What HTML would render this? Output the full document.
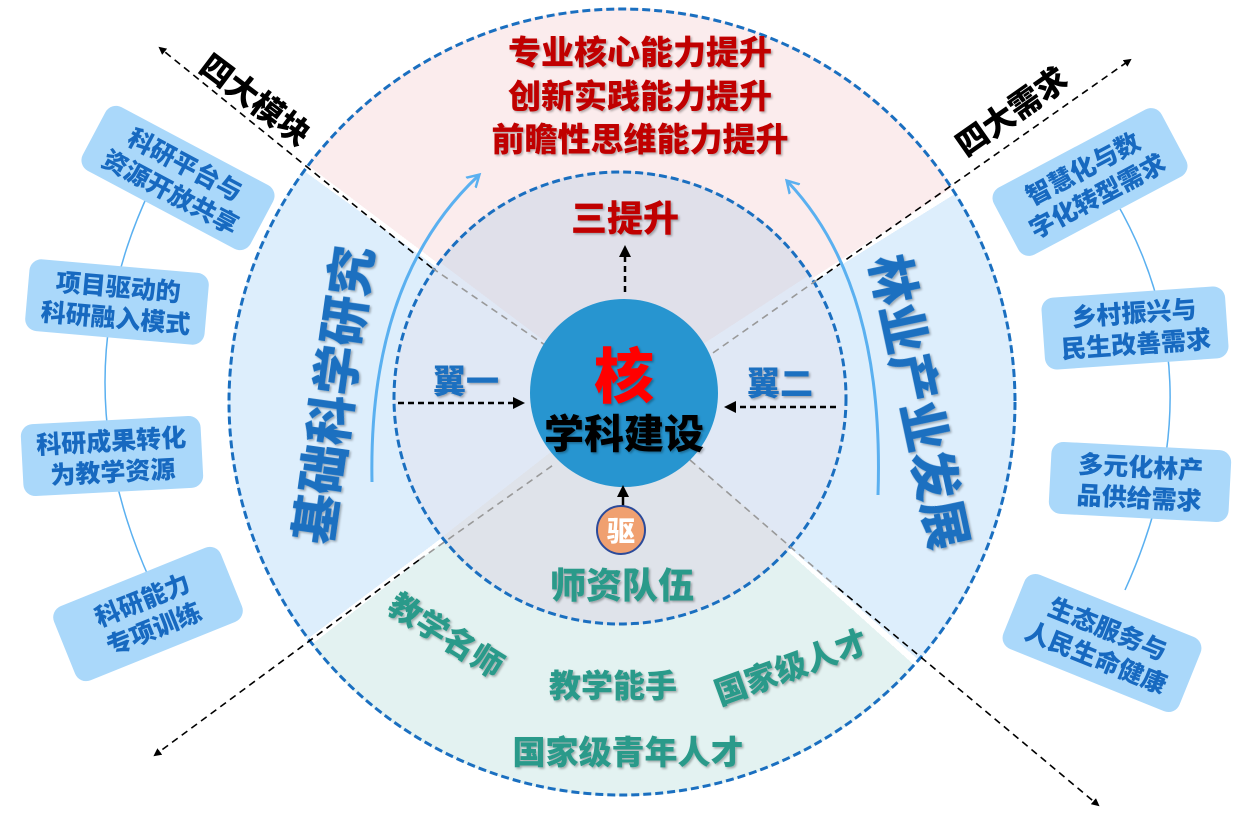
<!DOCTYPE html>
<html><head><meta charset="utf-8"><style>
html,body{margin:0;padding:0;background:#fff;}
#w{position:relative;width:1253px;height:820px;overflow:hidden;font-family:"Liberation Sans","Noto Sans CJK SC",sans-serif;}
.disk{position:absolute;border-radius:50%;}
svg{position:absolute;left:0;top:0;}
text{font-family:"Liberation Sans","Noto Sans CJK SC",sans-serif;font-weight:900;}
</style></head><body><div id="w">
<div class="disk" style="left:228px;top:8px;width:788px;height:788px;background:conic-gradient(from -53deg,#fbeced 0 110deg,#fff 110deg 111deg,#ddeefc 111deg 184deg,#fff 184deg 185deg,#e3f2f1 185deg 285deg,#fff 285deg 286deg,#ddeefc 286deg 359deg,#fff 359deg);"></div>
<div class="disk" style="left:393px;top:171px;width:454px;height:454px;background:conic-gradient(from -53deg,#e0e0ea 0 110deg,#e0e8f5 110deg 184deg,#dfe3ea 184deg 285deg,#e0e8f5 285deg 360deg);"></div>
<svg width="1253" height="820" viewBox="0 0 1253 820">
<defs>
<marker id="ak" markerWidth="8" markerHeight="8" refX="6" refY="4" orient="auto" markerUnits="userSpaceOnUse"><path d="M0,0 L8,4 L0,8 z" fill="#000"/></marker>
<marker id="ab" markerWidth="16" markerHeight="16" refX="10" refY="8" orient="auto" markerUnits="userSpaceOnUse"><path d="M0,1 L12,8 L0,15" fill="none" stroke="#5ab0f0" stroke-width="2.5"/></marker>
<marker id="ah" markerWidth="12" markerHeight="12" refX="9" refY="6" orient="auto" markerUnits="userSpaceOnUse"><path d="M0,0 L12,6 L0,12 z" fill="#000"/></marker>
<filter id="sh"><feDropShadow dx="1.5" dy="1.5" stdDeviation="1" flood-color="#000" flood-opacity="0.3"/></filter>
</defs>
<circle cx="622" cy="402" r="393" fill="none" stroke="#1a6fc0" stroke-width="3" stroke-dasharray="8 4"/>
<circle cx="620" cy="398" r="226" fill="none" stroke="#1a6fc0" stroke-width="3" stroke-dasharray="8 4"/>
<g stroke-width="1.6" stroke-dasharray="7 5" fill="none">
<line x1="432" y1="268" x2="160" y2="48" stroke="#000" marker-end="url(#ak)"/>
<line x1="432" y1="268" x2="545" y2="345" stroke="#999"/>
<line x1="838" y1="588" x2="1098" y2="805" stroke="#000" marker-end="url(#ak)"/>
<line x1="690" y1="460" x2="838" y2="588" stroke="#999"/>
<line x1="817" y1="280" x2="1130" y2="60" stroke="#000" marker-end="url(#ak)"/>
<line x1="817" y1="280" x2="710" y2="355" stroke="#999"/>
<line x1="419" y1="560" x2="155" y2="755" stroke="#000" marker-end="url(#ak)"/>
<line x1="419" y1="560" x2="556" y2="463" stroke="#999"/>
</g>
<path d="M150,190 Q60,380 150,580" fill="none" stroke="#5ab0f0" stroke-width="1.5"/>
<path d="M1115,200 Q1220,380 1125,590" fill="none" stroke="#5ab0f0" stroke-width="1.5"/>
<path d="M372,482 Q368,280 478,176" fill="none" stroke="#5ab0f0" stroke-width="3" marker-end="url(#ab)"/>
<path d="M878,495 Q885,285 788,182" fill="none" stroke="#5ab0f0" stroke-width="3" marker-end="url(#ab)"/>
<circle cx="624" cy="393" r="94" fill="#2795d0"/>
<line x1="625" y1="292" x2="625" y2="248" stroke="#000" stroke-width="2.5" stroke-dasharray="6 4" marker-end="url(#ah)"/>
<line x1="398" y1="403" x2="522" y2="403" stroke="#000" stroke-width="2.5" stroke-dasharray="6 4" marker-end="url(#ah)"/>
<line x1="836" y1="407" x2="727" y2="407" stroke="#000" stroke-width="2.5" stroke-dasharray="6 4" marker-end="url(#ah)"/>
<line x1="623" y1="510" x2="623" y2="488" stroke="#000" stroke-width="2.5" marker-end="url(#ah)"/>
<circle cx="621" cy="530" r="24" fill="#f0a070" stroke="#2b4a9a" stroke-width="2"/>
<text x="621" y="541" font-size="28" fill="#fff" text-anchor="middle">驱</text>
<g filter="url(#sh)">
<text x="624" y="398" font-size="60" fill="#ff0000" text-anchor="middle">核</text>
<text x="624" y="448" font-size="40" fill="#000" text-anchor="middle">学科建设</text>
<text x="640" y="64" font-size="33" fill="#c00000" text-anchor="middle">专业核心能力提升</text>
<text x="640" y="108" font-size="33" fill="#c00000" text-anchor="middle">创新实践能力提升</text>
<text x="640" y="151" font-size="33" fill="#c00000" text-anchor="middle">前瞻性思维能力提升</text>
<text x="625" y="231" font-size="36" fill="#c00000" text-anchor="middle">三提升</text>
<text x="466" y="393" font-size="33" fill="#1a6fc0" text-anchor="middle">翼一</text>
<text x="780" y="395" font-size="33" fill="#1a6fc0" text-anchor="middle">翼二</text>
<text x="622" y="598" font-size="36" fill="#2a9a8a" text-anchor="middle">师资队伍</text>
<text transform="translate(440,645) rotate(32)" font-size="32" fill="#2a9a8a" text-anchor="middle">教学名师</text>
<text x="613" y="697" font-size="32" fill="#2a9a8a" text-anchor="middle">教学能手</text>
<text transform="translate(795,678) rotate(-20)" font-size="32" fill="#2a9a8a" text-anchor="middle">国家级人才</text>
<text x="628" y="764" font-size="33" fill="#2a9a8a" text-anchor="middle">国家级青年人才</text>
<text transform="translate(335,395) rotate(-82)" font-size="50" fill="#1a6fc0" text-anchor="middle" dy="17">基础科学研究</text>
<text transform="translate(918,402) rotate(78)" font-size="50" fill="#1a6fc0" text-anchor="middle" dy="17">林业产业发展</text>
</g>
<text transform="translate(255,100) rotate(37)" font-size="32" fill="#000" text-anchor="middle" dy="11">四大模块</text>
<text transform="translate(1012,112) rotate(-35)" font-size="32" fill="#000" text-anchor="middle" dy="11">四大需求</text>
<g font-size="25" text-anchor="middle">
<g transform="translate(178,178) rotate(28)"><rect x="-95" y="-36" width="190" height="72" rx="12" fill="#aad8fa"/><text y="-6" fill="#1769c0">科研平台与</text><text y="25" fill="#1769c0">资源开放共享</text></g>
<g transform="translate(117,302) rotate(5)"><rect x="-90" y="-36" width="180" height="72" rx="12" fill="#aad8fa"/><text y="-6" fill="#1769c0">项目驱动的</text><text y="25" fill="#1769c0">科研融入模式</text></g>
<g transform="translate(112,456) rotate(-3)"><rect x="-90" y="-36" width="180" height="72" rx="12" fill="#aad8fa"/><text y="-6" fill="#1769c0">科研成果转化</text><text y="25" fill="#1769c0">为教学资源</text></g>
<g transform="translate(148,614) rotate(-22)"><rect x="-90" y="-40" width="180" height="80" rx="12" fill="#aad8fa"/><text y="-6" fill="#1769c0">科研能力</text><text y="25" fill="#1769c0">专项训练</text></g>
<g transform="translate(1090,182) rotate(-28)"><rect x="-95" y="-38" width="190" height="76" rx="12" fill="#aad8fa"/><text y="-6" fill="#1769c0">智慧化与数</text><text y="25" fill="#1769c0">字化转型需求</text></g>
<g transform="translate(1135,328) rotate(-4)"><rect x="-92" y="-36" width="184" height="72" rx="12" fill="#aad8fa"/><text y="-6" fill="#1769c0">乡村振兴与</text><text y="25" fill="#1769c0">民生改善需求</text></g>
<g transform="translate(1140,482) rotate(3)"><rect x="-90" y="-36" width="180" height="72" rx="12" fill="#aad8fa"/><text y="-6" fill="#1769c0">多元化林产</text><text y="25" fill="#1769c0">品供给需求</text></g>
<g transform="translate(1102,643) rotate(22)"><rect x="-95" y="-40" width="190" height="80" rx="12" fill="#aad8fa"/><text y="-6" fill="#1769c0">生态服务与</text><text y="25" fill="#1769c0">人民生命健康</text></g>
</g>
</svg>
</div></body></html>
